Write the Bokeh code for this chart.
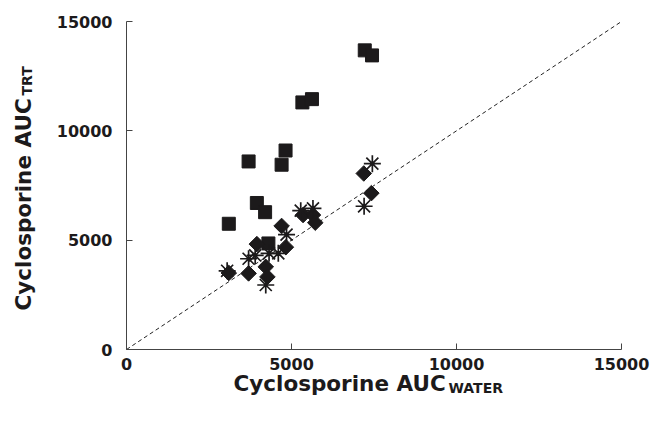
import math
from bokeh.plotting import figure
from bokeh.models import Range1d, FixedTicker, Label
from bokeh.embed import file_html
from bokeh.resources import INLINE

# ---- data ----
axis_ticks = [0, 5000, 10000, 15000]
identity_x = [0, 15000]
identity_y = [0, 15000]

square_x = [3100, 3700, 3950, 4200, 4300, 4700, 4820, 5330, 5620, 7220, 7440]
square_y = [5750, 8600, 6700, 6280, 4850, 8450, 9100, 11300, 11450, 13680, 13450]

diamond_x = [3100, 3700, 3950, 4220, 4270, 4700, 4830, 5350, 5650, 5720, 7190, 7420]
diamond_y = [3500, 3480, 4820, 3780, 3320, 5650, 4680, 6150, 6150, 5800, 8050, 7150]

star_x = [3050, 3700, 3900, 4220, 4320, 4600, 4850, 5280, 5650, 7200, 7450]
star_y = [3600, 4150, 4300, 2950, 4400, 4400, 5250, 6350, 6450, 6550, 8500]

x_title = "Cyclosporine AUC"
x_sub = "WATER"
y_title = "Cyclosporine AUC"
y_sub = "TRT"

INK = "#1c1a1b"
FONT = "DejaVu Sans"

p = figure(width=653, height=416, output_backend="svg", toolbar_location=None,
           x_range=Range1d(0, 15000), y_range=Range1d(0, 15000),
           min_border_left=126, min_border_right=32, min_border_top=21,
           min_border_bottom=67)
p.outline_line_color = None
p.xgrid.visible = False
p.ygrid.visible = False
p.background_fill_color = "white"
p.border_fill_color = "white"

for ax in (p.xaxis[0], p.yaxis[0]):
    ax.ticker = FixedTicker(ticks=axis_ticks)
    ax.minor_tick_line_color = None
    ax.major_tick_in = 6
    ax.major_tick_out = 0
    ax.axis_line_color = "#444444"
    ax.major_tick_line_color = "#444444"
    ax.axis_line_width = 1
    ax.major_label_text_font = FONT
    ax.major_label_text_font_style = "bold"
    ax.major_label_text_font_size = "16px"
    ax.major_label_text_color = INK
p.xaxis[0].major_label_standoff = 8
p.yaxis[0].major_label_standoff = 14

p.line(identity_x, identity_y, line_dash="4 3", line_color="#222222", line_width=1)

p.scatter(square_x, square_y, marker="square", size=13, fill_color=INK, line_color=INK)
p.scatter(diamond_x, diamond_y, marker="square", angle=math.pi / 4, size=11,
          fill_color=INK, line_color=INK)
p.scatter(star_x, star_y, marker="asterisk", size=17, line_color=INK, line_width=1.7)

# axis titles with subscripts, placed in the side panels (data units of the frame scales)
title_kw = dict(text_font=FONT, text_font_style="bold", text_color=INK,
                text_align="left", text_baseline="alphabetic")
p.add_layout(Label(x=3242, y=-1555, text=x_title, text_font_size="21.5px", **title_kw), "below")
p.add_layout(Label(x=9758, y=-1738, text=x_sub, text_font_size="14px", **title_kw), "below")
p.add_layout(Label(x=-3121, y=1783, text=y_title, angle=math.pi / 2,
                   text_font_size="21.5px", **title_kw), "left")
p.add_layout(Label(x=-3030, y=11615, text=y_sub, angle=math.pi / 2,
                   text_font_size="14px", **title_kw), "left")

open("out.html", "w").write(file_html(p, INLINE))
